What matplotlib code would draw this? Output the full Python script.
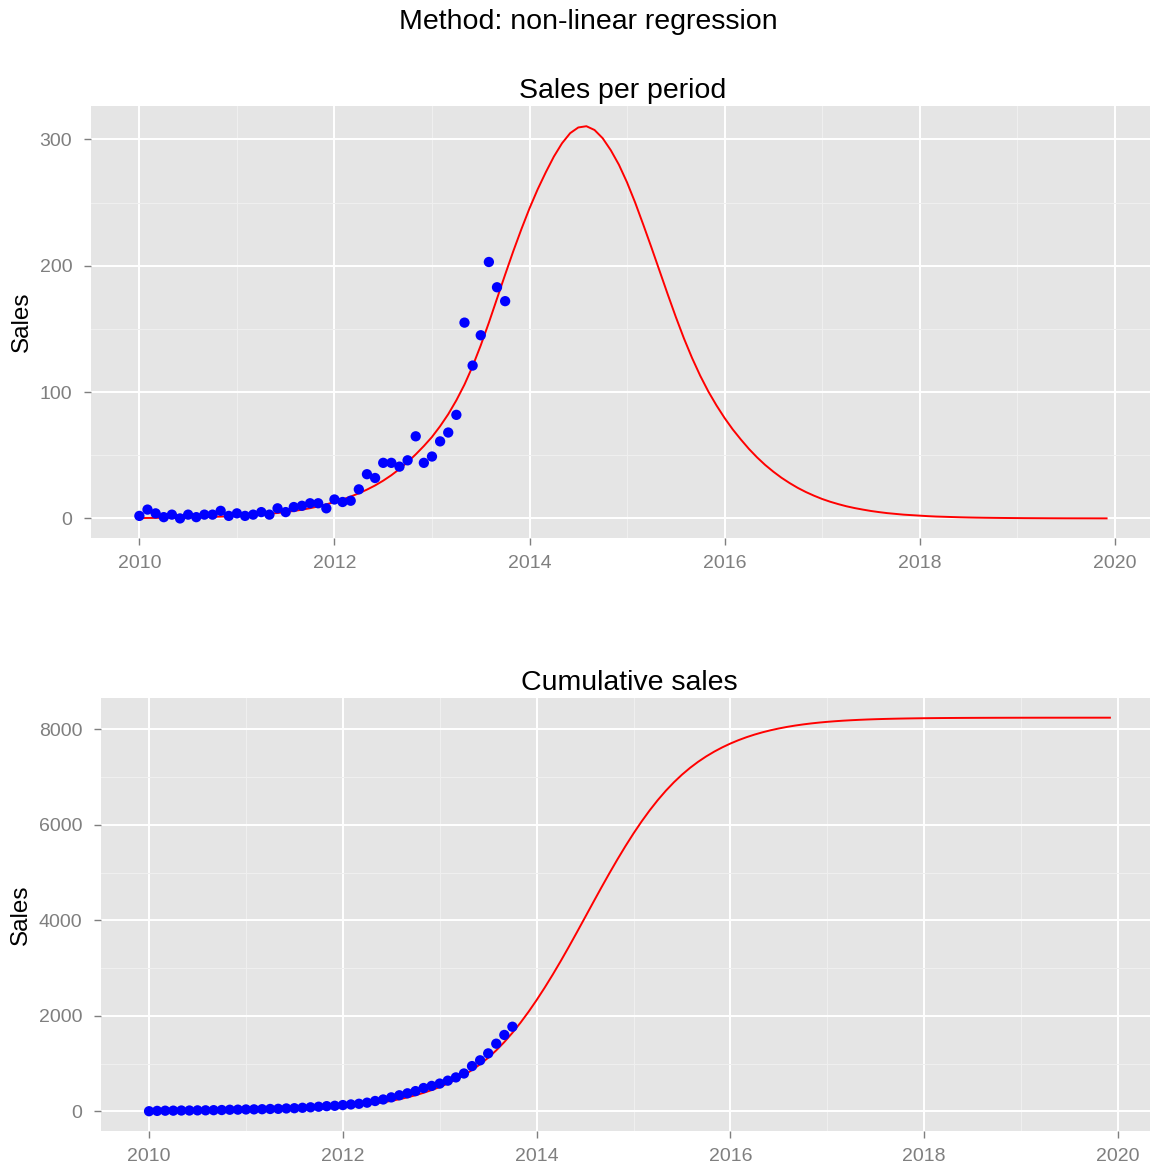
import numpy as np
import matplotlib
matplotlib.use("Agg")
import matplotlib.pyplot as plt
from matplotlib.ticker import MultipleLocator

# observed monthly sales, Jan 2010 .. Oct 2013
sales_obs = [2, 7, 4, 1, 3, 0, 3, 1, 3, 3, 6, 2,
             4, 2, 3, 5, 3, 8, 5, 9, 10, 12, 12, 8,
             15, 13, 14, 23, 35, 32, 44, 44, 41, 46, 65, 44,
             49, 61, 68, 82, 155, 121, 145, 203, 183, 172]

# fitted curve (non-linear regression), monthly, Jan 2010 .. Dec 2019
sales_fit = [0.3, 0.35, 0.41, 0.48, 0.57, 0.66, 0.77, 0.9, 1.06, 1.24, 1.45, 1.7,
             2.0, 2.3, 2.7, 3.2, 3.7, 4.3, 5.1, 5.9, 6.9, 8.1, 9.5, 11.1,
             13, 15, 17.3, 19.9, 22.8, 26.1, 29.9, 34.2, 39.1, 44.6, 50.7, 57.3,
             64.5, 73, 82.5, 93.5, 106, 120.5, 137, 155, 174, 193, 211.5, 229,
             245.5, 260.5, 274, 286.5, 297, 305, 309.5, 310.5, 307.5, 301, 291.5, 280,
             266, 250, 232.5, 214.5, 196, 177.5, 159.5, 142.5, 127, 113, 100.5, 89.5,
             79.5, 70.5, 62.5, 55, 48.3, 42.3, 37, 32.2, 28, 24.2, 20.9, 18,
             15.4, 13.2, 11.3, 9.6, 8.2, 7.0, 5.9, 5.0, 4.2, 3.6, 3.0, 2.6,
             2.2, 1.8, 1.5, 1.3, 1.1, 0.9, 0.75, 0.63, 0.53, 0.45, 0.38, 0.32,
             0.27, 0.22, 0.19, 0.16, 0.13, 0.11, 0.09, 0.08, 0.07, 0.06, 0.05, 0.04]

start_year = 2010
year_ticks = [2010, 2012, 2014, 2016, 2018, 2020]

t_obs = start_year + np.arange(len(sales_obs)) / 12
t_fit = start_year + np.arange(len(sales_fit)) / 12
cum_obs = np.cumsum(sales_obs)
cum_fit = np.cumsum(sales_fit)

W, H = 1150, 1165
fig = plt.figure(figsize=(W / 100, H / 100), dpi=100)
plt.rcParams['font.family'] = ['Liberation Sans', 'DejaVu Sans']


def px_axes(left, top, right, bottom):
    return fig.add_axes([left / W, 1 - bottom / H, (right - left) / W, (bottom - top) / H])


def gg_style(ax, title, ymajor, yminor, ylim):
    ax.set_facecolor('#e5e5e5')
    for s in ax.spines.values():
        s.set_visible(False)
    ax.set_xlim(2009.504, 2020.413)
    ax.set_ylim(*ylim)
    ax.set_xticks(year_ticks)
    ax.xaxis.set_minor_locator(MultipleLocator(1))
    ax.yaxis.set_major_locator(MultipleLocator(ymajor))
    ax.yaxis.set_minor_locator(MultipleLocator(yminor))
    ax.grid(which='major', color='white', linewidth=1.4)
    ax.grid(which='minor', color='#f0f0f0', linewidth=0.7)
    ax.set_axisbelow(True)
    ax.tick_params(which='major', length=5, width=1, color='#7f7f7f',
                   labelcolor='#7f7f7f', labelsize=14)
    ax.tick_params(axis='x', which='major', pad=7.5)
    ax.tick_params(axis='y', which='major', pad=8.5)
    ax.tick_params(which='minor', length=0)
    ax.set_title(title, fontsize=20.5, pad=6)
    ax.set_ylabel('Sales', fontsize=17.5, labelpad=5)


ax1 = px_axes(91, 106, 1155, 538)
ax1.plot(t_fit, sales_fit, color='red', linewidth=1.4, zorder=2)
ax1.scatter(t_obs, sales_obs, s=55, color='blue', edgecolors='none', zorder=3)
gg_style(ax1, 'Sales per period', 100, 50, (-15.5, 326.5))

ax2 = px_axes(101, 698, 1158, 1131)
ax2.plot(t_fit, cum_fit, color='red', linewidth=1.4, zorder=2)
ax2.scatter(t_obs, cum_obs, s=55, color='blue', edgecolors='none', zorder=3)
top = cum_fit[-1]
gg_style(ax2, 'Cumulative sales', 2000, 1000, (-0.05 * top, 1.05 * top))

fig.text(588 / W, 1 - 22 / H, 'Method: non-linear regression', fontsize=20.5,
         ha='center', va='center')

fig.savefig('out.png', dpi=100)
